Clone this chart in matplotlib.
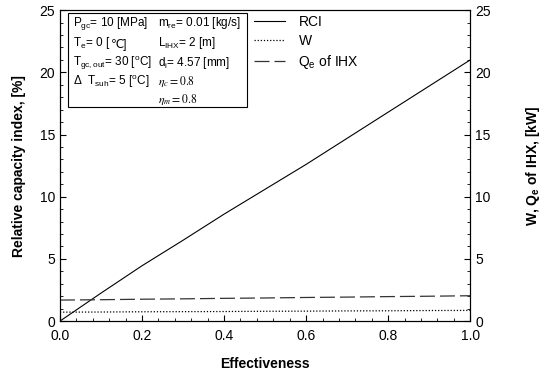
import numpy as np
import matplotlib.pyplot as plt
from matplotlib.patches import Rectangle
from matplotlib.ticker import MultipleLocator

plt.rcParams['font.family'] = ['Liberation Sans', 'DejaVu Sans']
plt.rcParams['mathtext.fontset'] = 'custom'
plt.rcParams['mathtext.rm'] = 'Liberation Sans'
plt.rcParams['mathtext.it'] = 'Liberation Sans:italic'
plt.rcParams['mathtext.bf'] = 'Liberation Sans:bold'

# Data
effectiveness = [0.0, 0.1, 0.2, 0.3, 0.4, 0.5, 0.6, 0.7, 0.8, 0.9, 1.0]
rci = [0.0, 2.25, 4.45, 6.5, 8.6, 10.6, 12.6, 14.7, 16.8, 18.9, 21.0]
work = [0.72, 0.73, 0.75, 0.76, 0.77, 0.79, 0.80, 0.82, 0.83, 0.85, 0.86]
qe_ihx = [1.69, 1.72, 1.76, 1.79, 1.83, 1.86, 1.90, 1.93, 1.97, 2.00, 2.04]

fig = plt.figure(figsize=(5.5, 3.76), dpi=100)
ax = fig.add_axes([0.109, 0.146, 0.746, 0.827])
ax2 = ax.twinx()

l1, = ax.plot(effectiveness, rci, color='black', lw=0.8, label='RCI')
l2, = ax2.plot(effectiveness, work, color='black', lw=0.9, ls=(0, (1, 1.5)), label='W')
l3, = ax2.plot(effectiveness, qe_ihx, color='#333333', lw=0.9, ls=(0, (12, 4)),
               label=r'Q$_{\rm e}$ of IHX')

for a in (ax, ax2):
    a.set_xlim(0, 1.0)
    a.set_ylim(0, 25)
    a.yaxis.set_major_locator(MultipleLocator(5))
    a.yaxis.set_minor_locator(MultipleLocator(1))
    a.tick_params(which='both', direction='in', labelsize=10)
    a.tick_params(which='major', length=4)
    a.tick_params(which='minor', length=2.5)
ax.xaxis.set_major_locator(MultipleLocator(0.2))
ax.xaxis.set_minor_locator(MultipleLocator(0.04))
ax.tick_params(axis='x', which='both', top=False)
ax.set_xticks(np.arange(0, 1.01, 0.2))
ax.set_xticklabels(['0.0', '0.2', '0.4', '0.6', '0.8', '1.0'])
ax.tick_params(axis='x', pad=6)

ax.set_xlabel('Effectiveness', fontsize=10, fontweight='bold', labelpad=10)
ax.set_ylabel('Relative capacity index, [%]', fontsize=10, fontweight='bold', labelpad=10)
ax2.set_ylabel(r'W, Q$_{\mathbf{e}}$ of IHX, [kW]', fontsize=10, fontweight='bold', labelpad=24)

ax.legend(handles=[l1, l2, l3], loc='upper left', bbox_to_anchor=(0.473, 0.985),
          frameon=False, fontsize=10, handlelength=2.2, handletextpad=1.0,
          labelspacing=0.35, borderpad=0, borderaxespad=0)

# Condition box
ax.add_patch(Rectangle((0.02, 0.69), 0.435, 0.30, transform=ax.transAxes,
                       fill=False, edgecolor='black', lw=0.8, zorder=5))
col1 = [r'P$_{\rm gc}$= 10 [MPa]', r'T$_{\rm e}$= 0 [',
        r'T$_{\rm gc,out}$= 30 [$^{\rm o}$C]', r'$\Delta$  T$_{\rm suh}$= 5 [$^{\rm o}$C]']
col2 = [r'm$_{\rm re}$= 0.01 [kg/s]', r'L$_{\rm IHX}$= 2 [m]', r'd$_{\rm i}$= 4.57 [mm]']
eta = [r'$\eta_c = 0.8$', r'$\eta_m = 0.8$']
rows = [0.958, 0.893, 0.829, 0.770, 0.712]
texts = []
for i, s in enumerate(col1):
    texts.append(ax.text(0.032, rows[i], s, transform=ax.transAxes, fontsize=8.5,
                         va='center'))
# degree Celsius sign is not in Liberation Sans math, append as plain text
ax.annotate('\u2103]', xy=(1, 0), xycoords=texts[1], va='bottom', ha='left',
            fontsize=8.5)
for i, s in enumerate(col2):
    ax.text(0.240, rows[i], s, transform=ax.transAxes, fontsize=8.5, va='center')
for i, s in enumerate(eta):
    ax.text(0.240, rows[i + 3], s, transform=ax.transAxes, fontsize=8.5, va='center',
            math_fontfamily='stix')

fig.savefig('out.png', dpi=100)
